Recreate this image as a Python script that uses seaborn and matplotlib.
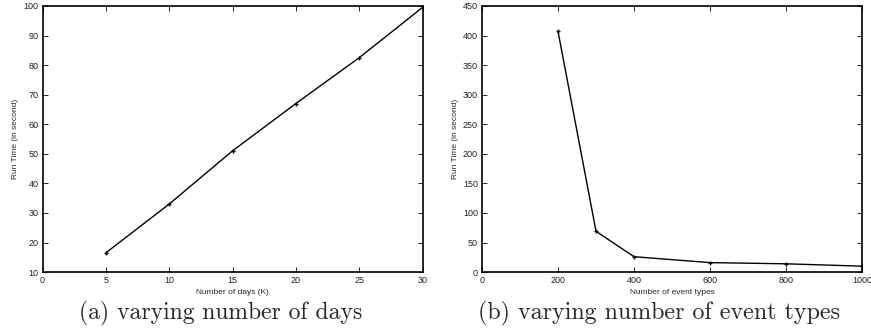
import seaborn as sns
import matplotlib.pyplot as plt
import pandas as pd

# (a) varying number of days
days = [5, 10, 15, 20, 25, 30]
days_time = [16.5, 33, 51, 67, 82.5, 99.5]

# (b) varying number of event types
events = [200, 300, 400, 600, 800, 1000]
events_time = [407, 69, 26, 16, 14, 10]

sns.set_style("ticks")
plt.rcParams['font.family'] = ['Liberation Sans', 'DejaVu Sans']

fig = plt.figure(figsize=(8.71, 3.31), dpi=100)
ax1 = fig.add_axes([0.0488, 0.178, 0.4363, 0.804])
ax2 = fig.add_axes([0.5534, 0.178, 0.4363, 0.804])

df1 = pd.DataFrame({"days": days, "time": days_time})
df2 = pd.DataFrame({"events": events, "time": events_time})

sns.lineplot(x="days", y="time", data=df1, ax=ax1, color="black", lw=1,
             marker="+", markersize=3.5, markeredgewidth=1, markeredgecolor="black")
sns.lineplot(x="events", y="time", data=df2, ax=ax2, color="black", lw=1,
             marker="+", markersize=3.5, markeredgewidth=1, markeredgecolor="black")

ax1.set_xlim(0, 30)
ax1.set_ylim(10, 100)
ax1.set_xticks(range(0, 31, 5))
ax1.set_yticks(range(10, 101, 10))
ax1.set_xlabel("Number of days (K)", fontsize=6, labelpad=3)

ax2.set_xlim(0, 1000)
ax2.set_ylim(0, 450)
ax2.set_xticks(range(0, 1001, 200))
ax2.set_yticks(range(0, 451, 50))
ax2.set_xlabel("Number of event types", fontsize=6, labelpad=3)

for ax in (ax1, ax2):
    ax.set_ylabel("Run Time (in second)", fontsize=6, labelpad=3)
    ax.tick_params(direction="in", top=True, right=True, labelsize=6.5,
                   length=3.5, width=0.7, pad=3, colors="#222222")
    for s in ax.spines.values():
        s.set_linewidth(1.2)
        s.set_color("black")

fig.text(0.253, 0.035, "(a) varying number of days", ha="center",
         fontsize=17, family="cmr10")
fig.text(0.757, 0.035, "(b) varying number of event types", ha="center",
         fontsize=17.3, family="cmr10")

fig.savefig("out.png", dpi=100)
